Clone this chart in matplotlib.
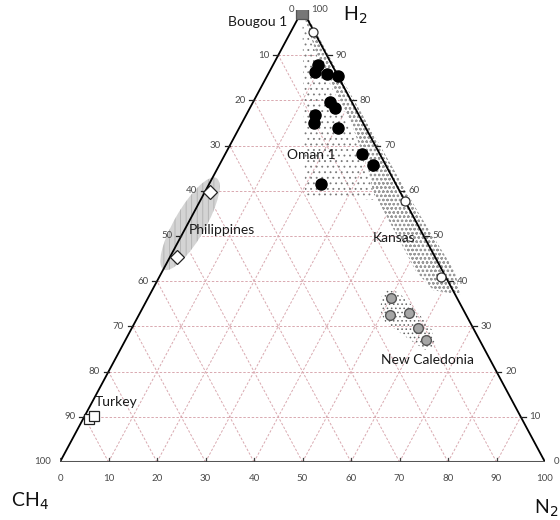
import numpy as np
import matplotlib
matplotlib.use("Agg")
import matplotlib.pyplot as plt
from matplotlib.patches import Polygon, Ellipse

plt.rcParams['font.family'] = ['Lato', 'DejaVu Sans']
plt.rcParams['hatch.linewidth'] = 0.6

# compositions in % (H2, N2) ; CH4 = 100 - H2 - N2
oman_h2 = [87.8, 86.3, 85.8, 85.4, 79.7, 78.3, 76.8, 75.1, 73.8, 68.1, 65.6, 61.4]
oman_n2 = [9.2, 9.4, 12.1, 14.6, 15.8, 17.6, 14.2, 14.9, 20.5, 28.3, 31.8, 23.1]

kansas_h2 = [95.1, 57.7, 40.9]
kansas_n2 = [4.6, 42.3, 58.1]

philippines_h2 = [59.7, 45.4]
philippines_n2 = [1.0, 1.4]

turkey_h2 = [9.5, 10.2]
turkey_n2 = [1.2, 1.9]

bougou_h2 = [99.3]
bougou_n2 = [0.3]

newcal_h2 = [36.2, 32.5, 33.0, 29.7, 27.0]
newcal_n2 = [50.1, 51.7, 55.5, 59.0, 62.0]

# shaded fields (H2, N2)
oman_field_h2 = [97, 59, 58, 60, 75, 90]
oman_field_n2 = [1.5, 21, 36, 35, 22, 8]

kansas_field_h2 = [98, 90, 75, 65, 60, 50, 42, 38, 37, 42, 55, 70, 85, 98]
kansas_field_ch4 = [0.5, 2, 2.5, 4, 5.5, 5.5, 5.5, 4, -1, -2.5, -1.5, -1, -0.5, -0.3]

newcal_field_h2 = [36.7, 38.1, 37.6, 34.7, 29.2, 25.9, 24.8, 27.0, 31.0, 33.6]
newcal_field_n2 = [48.0, 48.5, 50.9, 55.2, 62.1, 64.5, 62.9, 58.7, 51.5, 49.2]

ticks = list(range(0, 101, 10))


def tern(h2, n2):
    h2 = np.asarray(h2, float)
    n2 = np.asarray(n2, float)
    return n2 + h2 / 2, h2


fig = plt.figure(figsize=(5.6, 5.2), dpi=100)
ax = fig.add_axes([60 / 560, 58 / 520, 485 / 560, 452 / 520])
ax.set_xlim(0, 100)
ax.set_ylim(0, 100)
ax.axis('off')

# grille
gcol = '#d9a9b0'
for k in range(10, 100, 10):
    x, y = tern([k, k], [0, 100 - k])
    ax.plot(x, y, color=gcol, lw=0.7, ls=(0, (2.5, 1.8)), zorder=1)
    x, y = tern([0, 100 - k], [k, k])
    ax.plot(x, y, color=gcol, lw=0.7, ls=(0, (2.5, 1.8)), zorder=1)
    x, y = tern([0, 100 - k], [100 - k, 0])
    ax.plot(x, y, color=gcol, lw=0.7, ls=(0, (2.5, 1.8)), zorder=1)

# champs
x, y = tern(oman_field_h2, oman_field_n2)
ax.add_patch(Polygon(np.column_stack([x, y]), closed=True, facecolor='none',
                     edgecolor='#7a7a7a', hatch='...', lw=0, zorder=2))

kn2 = [100 - h - c for h, c in zip(kansas_field_h2, kansas_field_ch4)]
x, y = tern(kansas_field_h2, kn2)
ax.add_patch(Polygon(np.column_stack([x, y]), closed=True, facecolor='white',
                     edgecolor='#9a9a9a', hatch='oooo', lw=0, zorder=2))

x, y = tern(newcal_field_h2, newcal_field_n2)
ax.add_patch(Polygon(np.column_stack([x, y]), closed=True, facecolor='none',
                     edgecolor='#666666', hatch='....', lw=0, zorder=2))

cx, cy = tern([52.7], [0.45])
ax.add_patch(Ellipse((cx[0], cy[0]), 23, 6.5, angle=62, facecolor='#d4d4d4',
                     edgecolor='#b0b0b0', hatch='|||', lw=0, zorder=2))

# triangle
x, y = tern([0, 100], [0, 0])
ax.plot(x, y, color='black', lw=1.3, zorder=3, solid_capstyle='round')
x, y = tern([100, 0], [0, 100])
ax.plot(x, y, color='black', lw=1.3, zorder=3, solid_capstyle='round')
x, y = tern([0, 0], [0, 100])
ax.plot(x, y, color='#555555', lw=2.2, zorder=3)

# graduations
tcol = '#4a4a4a'
for k in ticks:
    ax.plot([k, k], [-0.8, 0.8], color='#444444', lw=0.9, zorder=3)
    ax.text(k, -3.6, str(k), ha='center', va='center', fontsize=7, color=tcol)
    # gauche : CH4
    ex, ey = tern([100 - k], [0])
    ax.plot([ex[0] - 1, ex[0]], [ey[0], ey[0]], color='#222222', lw=0.9, zorder=3)
    ax.text(ex[0] - 1.8, ey[0], str(k), ha='right', va='center', fontsize=7, color=tcol)
    # droite : H2
    ex, ey = tern([k], [100 - k])
    ax.plot([ex[0], ex[0] + 1], [ey[0], ey[0]], color='#222222', lw=0.9, zorder=3)
    ax.text(ex[0] + 1.8, ey[0], str(k), ha='left', va='center', fontsize=7, color=tcol)

# points
x, y = tern(oman_h2, oman_n2)
ax.plot(x, y, 'o', ms=8, mfc='black', mec='black', ls='none', zorder=5)
x, y = tern(kansas_h2, kansas_n2)
ax.plot(x, y, 'o', ms=6.5, mfc='white', mec='#333333', mew=0.9, ls='none', zorder=5)
x, y = tern(philippines_h2, philippines_n2)
ax.plot(x, y, 'D', ms=7, mfc='white', mec='#222222', mew=0.9, ls='none', zorder=5)
x, y = tern(turkey_h2, turkey_n2)
ax.plot(x, y, 's', ms=6.5, mfc='white', mec='#222222', mew=0.9, ls='none', zorder=5)
x, y = tern(bougou_h2, bougou_n2)
ax.plot(x, y, 's', ms=9, mfc='#777777', mec='#555555', mew=0.9, ls='none', zorder=5)
x, y = tern(newcal_h2, newcal_n2)
ax.plot(x, y, 'o', ms=7, mfc='#a6a6a6', mec='#555555', mew=1.0, ls='none', zorder=5)

# noms
lkw = dict(ha='center', va='center', fontsize=10, color='#1a1a1a', zorder=6)
ax.text(40.8, 97.3, 'Bougou 1', **lkw)
ax.text(51.8, 67.9, 'Oman 1', **lkw)
ax.text(33.4, 51.3, 'Philippines', **lkw)
ax.text(68.9, 49.6, 'Kansas', **lkw)
ax.text(75.7, 22.6, 'New Caledonia', **lkw)
ax.text(11.5, 13.3, 'Turkey', **lkw)

# pôles
ax.text(60.8, 98.8, 'H$_2$', ha='center', va='center', fontsize=14, color='#111111')
ax.text(-10, -8.6, 'CH$_4$', ha='left', va='center', fontsize=14, color='#111111')
ax.text(102.8, -10.2, 'N$_2$', ha='right', va='center', fontsize=14, color='#111111')

fig.savefig('out.png', dpi=100)
